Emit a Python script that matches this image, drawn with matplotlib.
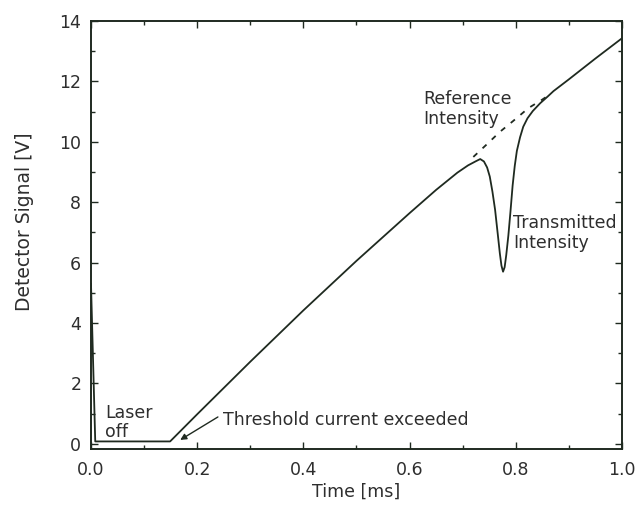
import matplotlib
matplotlib.use("Agg")
import matplotlib.pyplot as plt
from matplotlib.ticker import MultipleLocator

# Transmitted detector signal over one current ramp
time_ms = [0.0, 0.008, 0.149, 0.2, 0.3, 0.4, 0.5, 0.6, 0.65, 0.69, 0.71,
           0.725, 0.733, 0.740, 0.746, 0.751, 0.756, 0.761, 0.766, 0.770,
           0.773, 0.776, 0.779, 0.782, 0.786, 0.790, 0.794, 0.798, 0.802,
           0.808, 0.814, 0.822, 0.832, 0.846, 0.86, 0.871, 0.9, 0.95, 1.0]
transmitted_v = [5.3, 0.08, 0.08, 0.98, 2.72, 4.42, 6.06, 7.64, 8.41, 8.98, 9.22,
                 9.36, 9.43, 9.35, 9.15, 8.85, 8.35, 7.75, 6.95, 6.3,
                 5.9, 5.7, 5.85, 6.25, 6.9, 7.7, 8.55, 9.2, 9.7,
                 10.15, 10.5, 10.78, 11.02, 11.28, 11.5, 11.68, 12.07, 12.76, 13.43]

# Reference intensity (baseline without absorption) across the line
ref_time_ms = [0.72, 0.748, 0.77, 0.795, 0.824, 0.849, 0.86]
ref_v = [9.5, 9.96, 10.33, 10.69, 11.12, 11.39, 11.52]

x_ticks = [0.0, 0.2, 0.4, 0.6, 0.8, 1.0]
x_tick_labels = ["0.0", "0.2", "0.4", "0.6", "0.8", "1.0"]
y_ticks = [0, 2, 4, 6, 8, 10, 12, 14]

line_color = "#1f2a20"
text_color = "#2e2e2e"
plt.rcParams["font.family"] = ["DejaVu Sans"]

fig = plt.figure(figsize=(6.39, 5.13), dpi=100)
ax = fig.add_axes([0.1424, 0.1248, 0.831, 0.8342])

ax.plot(time_ms, transmitted_v, color=line_color, lw=1.3, solid_joinstyle="round")
ax.plot(ref_time_ms, ref_v, color=line_color, lw=1.3, linestyle=(0, (3, 4)))

ax.set_xlim(0, 1.0)
ax.set_ylim(-0.17, 14)
ax.set_xticks(x_ticks)
ax.set_xticklabels(x_tick_labels)
ax.set_yticks(y_ticks)
ax.xaxis.set_minor_locator(MultipleLocator(0.1))
ax.yaxis.set_minor_locator(MultipleLocator(1))

ax.tick_params(which="both", direction="in", top=True, right=True,
               color=line_color, width=1.0)
ax.tick_params(which="major", length=5)
ax.tick_params(which="minor", length=3)
ax.tick_params(axis="x", which="major", pad=9, labelsize=12.5, labelcolor=text_color)
ax.tick_params(axis="y", which="major", pad=7, labelsize=12.5, labelcolor=text_color)
for sp in ax.spines.values():
    sp.set_color(line_color)
    sp.set_linewidth(1.4)

ax.set_xlabel("Time [ms]", fontsize=12.5, color=text_color, va="center")
ax.xaxis.set_label_coords(0.5, -0.1)
ax.set_ylabel("Detector Signal [V]", fontsize=13.5, color=text_color, va="center")
ax.yaxis.set_label_coords(-0.125, 0.53)

ax.text(0.625, 11.08, "Reference\nIntensity", fontsize=12.5, color=text_color,
        ha="left", va="center", linespacing=1.15)
ax.text(0.795, 6.97, "Transmitted\nIntensity", fontsize=12.5, color=text_color,
        ha="left", va="center", linespacing=1.15)
ax.text(0.026, 0.71, "Laser\noff", fontsize=12.5, color=text_color,
        ha="left", va="center", linespacing=1.05)
ax.text(0.249, 0.79, "Threshold current exceeded", fontsize=12.5,
        color=text_color, ha="left", va="center")
ax.annotate("", xy=(0.168, 0.13), xytext=(0.239, 0.89),
            arrowprops=dict(arrowstyle="-|>", color=line_color, lw=1.0,
                            mutation_scale=9, shrinkA=0, shrinkB=0))

fig.savefig("out.png", dpi=100)
